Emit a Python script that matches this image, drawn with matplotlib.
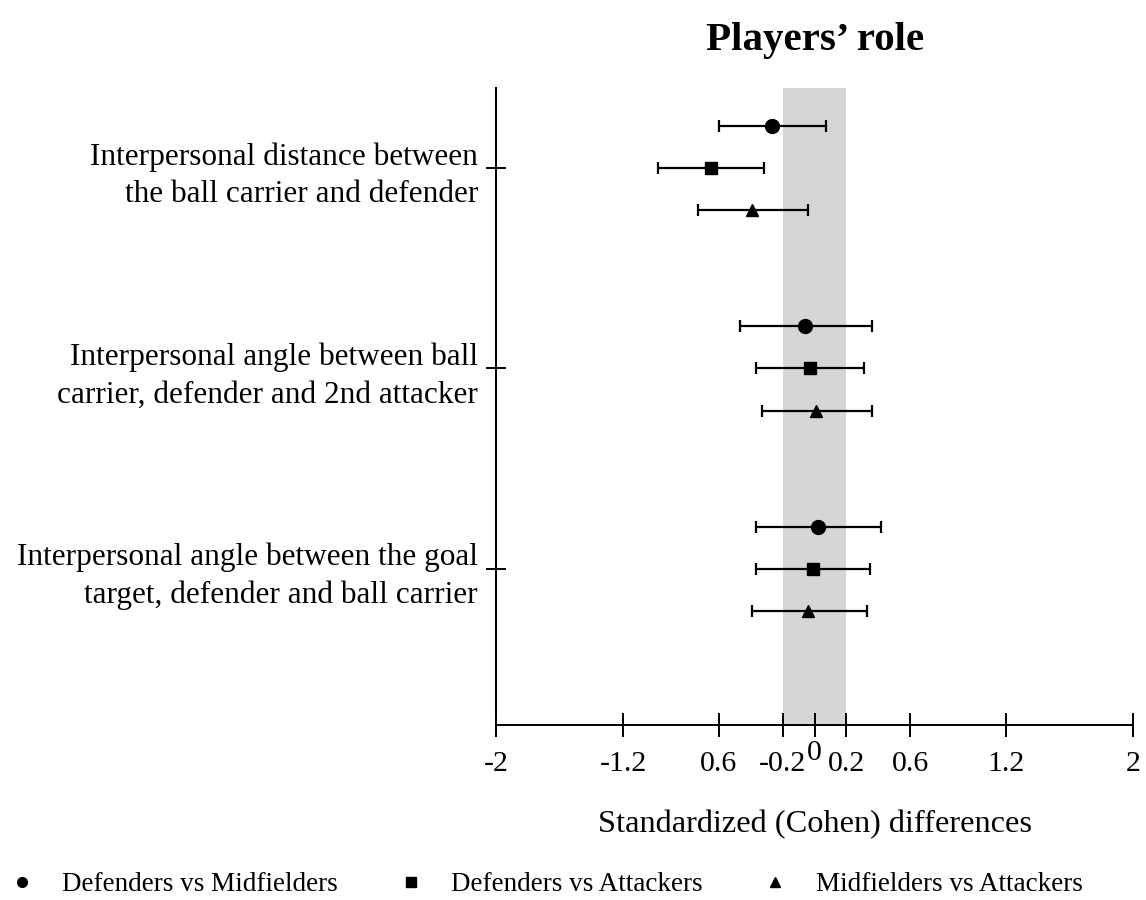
import numpy as np
import matplotlib.pyplot as plt
from matplotlib.lines import Line2D

# Outcome labels (one per row group)
outcomes = ['Interpersonal distance between\nthe ball carrier and defender',
            'Interpersonal angle between ball\ncarrier, defender and 2nd attacker',
            'Interpersonal angle between the goal\ntarget, defender and ball carrier']

# Comparisons and their markers
comparisons = ['Defenders vs Midfielders', 'Defenders vs Attackers', 'Midfielders vs Attackers']

# Effect sizes with lower / upper confidence limits, one list per comparison
def_mid = [-0.27, -0.06, 0.02]
def_mid_lo = [-0.60, -0.47, -0.37]
def_mid_hi = [0.07, 0.36, 0.42]

def_att = [-0.65, -0.03, -0.01]
def_att_lo = [-0.98, -0.37, -0.37]
def_att_hi = [-0.32, 0.31, 0.35]

mid_att = [-0.39, 0.01, -0.04]
mid_att_lo = [-0.73, -0.33, -0.39]
mid_att_hi = [-0.04, 0.36, 0.33]

# Axis ticks and their printed labels (kept as printed in the figure)
xticks = [-2, -1.2, -0.6, -0.2, 0, 0.2, 0.6, 1.2, 2]
xtick_labels = ['-2', '-1.2', '0.6', '-0.2', '', '0.2', '0.6', '1.2', '2']

plt.rcParams['font.family'] = 'Liberation Serif'

fig = plt.figure(figsize=(11.46, 9), dpi=100)
ax = fig.add_axes([0.4328, 0.1944, 0.5559, 0.7078])

# Trivial effect band between -0.2 and 0.2
ax.axvspan(-0.2, 0.2, color='#d6d6d6', lw=0, zorder=0)

series = [(def_mid, def_mid_lo, def_mid_hi, 'o', 10, -0.21),
          (def_att, def_att_lo, def_att_hi, 's', 9, 0.0),
          (mid_att, mid_att_lo, mid_att_hi, '^', 8.5, 0.21)]

base = np.arange(len(outcomes))
for vals, lo, hi, mk, ms, off in series:
    vals = np.array(vals)
    err = [vals - np.array(lo), np.array(hi) - vals]
    ax.errorbar(vals, base + off, xerr=err, fmt=mk, color='black', ms=ms,
                elinewidth=1.6, capsize=4.5, capthick=1.6, zorder=3)

ax.set_xlim(-2, 2)
ax.set_ylim(2.78, -0.4)
ax.set_xticks(xticks)
ax.set_xticklabels(xtick_labels, fontsize=21.5)
# the zero label sits a little higher than the others
ax.text(0, -0.024, '0', transform=ax.get_xaxis_transform(), ha='center', va='top', fontsize=21.5)
ax.set_yticks(base)
ax.set_yticklabels(outcomes, fontsize=22.5, linespacing=1.38)

for side in ['top', 'right']:
    ax.spines[side].set_visible(False)
for side in ['left', 'bottom']:
    ax.spines[side].set_linewidth(1.4)
ax.tick_params(axis='x', direction='inout', length=17, width=1.4, pad=10)
ax.tick_params(axis='y', direction='inout', length=14, width=1.4, pad=6)

ax.set_xlabel('Standardized (Cohen) differences', fontsize=23.3, labelpad=24)
fig.text(0.711, 0.955, 'Players\u2019 role', ha='center', va='center', fontsize=29.5, fontweight='bold')

handles = [Line2D([], [], marker=m, color='black', ls='none', ms=s)
           for m, s in [('o', 7), ('s', 7), ('^', 6.5)]]
fig.legend(handles, comparisons, loc='center', bbox_to_anchor=(0.477, 0.017), ncol=3,
           frameon=False, fontsize=19.5, columnspacing=2.3, handlelength=0.8, handletextpad=1.08)

plt.savefig('out.png', dpi=100)
